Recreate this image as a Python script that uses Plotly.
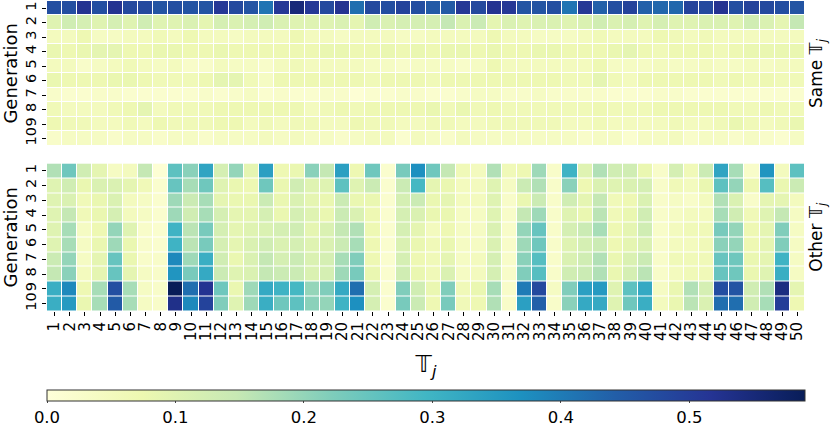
import plotly.graph_objects as go

columns = [str(i) for i in range(1, 51)]
generations = [str(i) for i in range(1, 11)]

# ---- Same T_j (top panel), one list per generation ----
same_g1 = [0.47,0.47,0.52,0.47,0.52,0.48,0.48,0.46,0.47,0.46,0.46,0.51,0.48,0.46,0.41,0.51,0.55,0.51,0.48,0.52,
           0.42,0.48,0.47,0.49,0.47,0.45,0.45,0.51,0.48,0.52,0.51,0.46,0.46,0.47,0.41,0.51,0.44,0.47,0.49,0.44,
           0.43,0.43,0.49,0.48,0.52,0.47,0.49,0.48,0.47,0.46]
same_g2 = [0.10,0.13,0.12,0.10,0.12,0.10,0.13,0.10,0.10,0.11,0.09,0.12,0.11,0.12,0.13,0.11,0.10,0.10,0.10,0.11,
           0.09,0.13,0.11,0.12,0.12,0.12,0.15,0.11,0.14,0.09,0.11,0.10,0.11,0.11,0.10,0.11,0.13,0.11,0.12,0.10,
           0.12,0.10,0.10,0.11,0.11,0.10,0.13,0.11,0.09,0.15]
same_g3 = [0.05,0.05,0.07,0.04,0.04,0.05,0.05,0.06,0.05,0.07,0.05,0.05,0.04,0.05,0.05,0.05,0.07,0.05,0.05,0.04,
           0.05,0.05,0.05,0.04,0.04,0.05,0.05,0.05,0.05,0.07,0.05,0.05,0.04,0.04,0.04,0.05,0.06,0.05,0.05,0.05,
           0.07,0.06,0.05,0.06,0.05,0.05,0.05,0.05,0.05,0.05]
same_g4 = [0.08,0.07,0.08,0.09,0.09,0.07,0.07,0.08,0.08,0.07,0.07,0.08,0.07,0.07,0.07,0.07,0.07,0.07,0.08,0.08,
           0.07,0.07,0.08,0.07,0.08,0.07,0.08,0.08,0.07,0.08,0.07,0.07,0.08,0.08,0.07,0.07,0.07,0.08,0.09,0.07,
           0.06,0.07,0.07,0.07,0.06,0.07,0.08,0.08,0.08,0.08]
same_g5 = [0.05,0.05,0.03,0.04,0.05,0.06,0.05,0.04,0.05,0.03,0.03,0.05,0.04,0.04,0.03,0.05,0.06,0.05,0.05,0.05,
           0.05,0.04,0.04,0.03,0.04,0.04,0.04,0.03,0.04,0.07,0.05,0.05,0.05,0.05,0.05,0.05,0.07,0.04,0.04,0.04,
           0.05,0.04,0.04,0.05,0.04,0.04,0.05,0.04,0.05,0.05]
same_g6 = [0.08,0.07,0.07,0.07,0.08,0.08,0.07,0.06,0.06,0.06,0.07,0.09,0.09,0.06,0.04,0.07,0.07,0.07,0.07,0.07,
           0.07,0.06,0.07,0.07,0.07,0.06,0.07,0.07,0.07,0.07,0.07,0.07,0.07,0.07,0.06,0.06,0.09,0.06,0.05,0.07,
           0.07,0.07,0.07,0.07,0.06,0.07,0.06,0.07,0.06,0.06]
same_g7 = [0.03,0.02,0.02,0.03,0.03,0.02,0.02,0.02,0.02,0.02,0.03,0.02,0.03,0.04,0.02,0.03,0.02,0.02,0.03,0.03,
           0.01,0.02,0.02,0.03,0.03,0.02,0.02,0.03,0.04,0.04,0.03,0.03,0.04,0.03,0.03,0.03,0.03,0.02,0.02,0.02,
           0.03,0.03,0.02,0.02,0.02,0.02,0.02,0.02,0.02,0.02]
same_g8 = [0.06,0.05,0.05,0.05,0.06,0.07,0.09,0.05,0.06,0.06,0.06,0.07,0.07,0.07,0.07,0.07,0.07,0.05,0.06,0.07,
           0.06,0.07,0.07,0.07,0.07,0.08,0.06,0.08,0.06,0.07,0.06,0.06,0.06,0.06,0.06,0.06,0.07,0.06,0.06,0.06,
           0.07,0.07,0.07,0.07,0.07,0.06,0.06,0.07,0.06,0.06]
same_g9 = [0.07,0.06,0.06,0.05,0.05,0.06,0.05,0.07,0.06,0.06,0.06,0.07,0.07,0.05,0.06,0.05,0.06,0.06,0.05,0.05,
           0.07,0.06,0.06,0.05,0.05,0.06,0.06,0.05,0.05,0.06,0.06,0.06,0.06,0.06,0.05,0.05,0.06,0.05,0.05,0.05,
           0.05,0.06,0.05,0.05,0.06,0.08,0.06,0.05,0.06,0.08]
same_g10 = [0.03,0.04,0.04,0.04,0.03,0.04,0.04,0.03,0.04,0.04,0.03,0.04,0.04,0.04,0.05,0.04,0.05,0.04,0.04,0.03,
            0.04,0.05,0.05,0.02,0.05,0.04,0.03,0.05,0.04,0.04,0.04,0.04,0.04,0.04,0.04,0.03,0.04,0.04,0.02,0.04,
            0.04,0.05,0.03,0.04,0.04,0.03,0.04,0.03,0.02,0.04]

# ---- Other T_j (bottom panel), one list per generation ----
other_g1 = [0.17,0.24,0.13,0.09,0.04,0.05,0.15,0.01,0.26,0.21,0.33,0.12,0.20,0.09,0.34,0.07,0.08,0.21,0.15,0.34,
            0.07,0.24,0.02,0.23,0.37,0.24,0.15,0.06,0.05,0.17,0.06,0.07,0.19,0.03,0.30,0.10,0.17,0.13,0.13,0.08,
            0.03,0.12,0.06,0.14,0.33,0.18,0.03,0.36,0.05,0.26]
other_g2 = [0.10,0.13,0.08,0.11,0.11,0.09,0.06,0.02,0.25,0.18,0.24,0.10,0.08,0.07,0.24,0.08,0.13,0.10,0.10,0.26,
            0.10,0.14,0.02,0.14,0.29,0.09,0.08,0.05,0.05,0.10,0.04,0.14,0.17,0.03,0.21,0.07,0.11,0.10,0.11,0.12,
            0.03,0.06,0.05,0.08,0.26,0.20,0.07,0.27,0.08,0.14]
other_g3 = [0.10,0.11,0.06,0.08,0.11,0.05,0.04,0.02,0.19,0.14,0.18,0.09,0.08,0.08,0.14,0.08,0.11,0.09,0.08,0.14,
            0.08,0.08,0.02,0.12,0.14,0.08,0.09,0.05,0.05,0.10,0.03,0.08,0.14,0.03,0.13,0.09,0.15,0.06,0.07,0.11,
            0.03,0.04,0.03,0.05,0.17,0.11,0.03,0.09,0.09,0.05]
other_g4 = [0.10,0.15,0.06,0.08,0.12,0.05,0.04,0.02,0.19,0.13,0.18,0.12,0.09,0.09,0.12,0.08,0.12,0.10,0.08,0.14,
            0.11,0.07,0.02,0.12,0.11,0.08,0.08,0.04,0.04,0.10,0.03,0.15,0.19,0.03,0.10,0.08,0.16,0.06,0.08,0.13,
            0.03,0.04,0.05,0.05,0.18,0.13,0.06,0.10,0.15,0.04]
other_g5 = [0.10,0.18,0.04,0.07,0.20,0.10,0.03,0.02,0.30,0.16,0.23,0.12,0.09,0.10,0.11,0.12,0.13,0.09,0.11,0.15,
            0.17,0.07,0.02,0.12,0.09,0.05,0.07,0.04,0.04,0.11,0.03,0.20,0.25,0.03,0.12,0.14,0.18,0.07,0.09,0.13,
            0.03,0.05,0.06,0.06,0.23,0.20,0.07,0.09,0.22,0.04]
other_g6 = [0.10,0.18,0.04,0.08,0.19,0.08,0.03,0.02,0.30,0.16,0.23,0.12,0.09,0.11,0.13,0.11,0.12,0.10,0.11,0.14,
            0.18,0.07,0.02,0.11,0.08,0.06,0.08,0.04,0.04,0.11,0.03,0.19,0.24,0.03,0.10,0.12,0.14,0.07,0.09,0.11,
            0.03,0.05,0.05,0.06,0.21,0.20,0.07,0.09,0.22,0.04]
other_g7 = [0.14,0.20,0.04,0.09,0.25,0.08,0.03,0.03,0.38,0.19,0.31,0.13,0.08,0.11,0.15,0.12,0.14,0.11,0.12,0.18,
            0.22,0.07,0.02,0.12,0.07,0.06,0.09,0.04,0.05,0.12,0.03,0.21,0.27,0.03,0.11,0.13,0.17,0.08,0.11,0.14,
            0.03,0.06,0.06,0.06,0.25,0.24,0.08,0.09,0.30,0.04]
other_g8 = [0.15,0.21,0.05,0.09,0.25,0.09,0.04,0.03,0.36,0.23,0.32,0.14,0.10,0.11,0.15,0.14,0.14,0.11,0.12,0.19,
            0.23,0.08,0.02,0.13,0.08,0.06,0.11,0.04,0.05,0.12,0.03,0.22,0.27,0.03,0.13,0.14,0.17,0.08,0.12,0.16,
            0.03,0.05,0.06,0.06,0.25,0.24,0.08,0.10,0.31,0.04]
other_g9 = [0.31,0.38,0.07,0.18,0.47,0.18,0.04,0.03,0.59,0.42,0.52,0.24,0.08,0.19,0.32,0.30,0.29,0.20,0.22,0.32,
            0.42,0.12,0.02,0.22,0.13,0.08,0.22,0.06,0.08,0.18,0.03,0.40,0.48,0.04,0.22,0.34,0.35,0.10,0.26,0.32,
            0.04,0.08,0.17,0.12,0.47,0.46,0.13,0.17,0.54,0.09]
other_g10 = [0.31,0.35,0.08,0.18,0.45,0.18,0.04,0.03,0.53,0.38,0.49,0.22,0.10,0.19,0.31,0.24,0.26,0.21,0.20,0.30,
             0.37,0.12,0.02,0.23,0.14,0.07,0.23,0.06,0.07,0.17,0.03,0.34,0.44,0.03,0.21,0.32,0.32,0.10,0.24,0.31,
             0.05,0.08,0.16,0.11,0.42,0.42,0.13,0.18,0.50,0.07]

colorbar_ticks = [0.0, 0.1, 0.2, 0.3, 0.4, 0.5]
zmax = 0.59

same_vals = [same_g1, same_g2, same_g3, same_g4, same_g5, same_g6, same_g7, same_g8, same_g9, same_g10]
other_vals = [other_g1, other_g2, other_g3, other_g4, other_g5, other_g6, other_g7, other_g8, other_g9, other_g10]

ylgnbu = [[0.0, "#ffffd9"], [0.125, "#edf8b1"], [0.25, "#c7e9b4"], [0.375, "#7fcdbb"],
          [0.5, "#41b6c4"], [0.625, "#1d91c0"], [0.75, "#225ea8"], [0.875, "#253494"], [1.0, "#081d58"]]

FONT = "DejaVu Sans"

fig = go.Figure()
fig.add_trace(go.Heatmap(
    z=same_vals, x=columns, y=generations, xaxis="x", yaxis="y",
    colorscale=ylgnbu, zmin=0, zmax=zmax, xgap=1, ygap=1, showscale=False,
))
fig.add_trace(go.Heatmap(
    z=other_vals, x=columns, y=generations, xaxis="x", yaxis="y2",
    colorscale=ylgnbu, zmin=0, zmax=zmax, xgap=1, ygap=1, showscale=True,
    colorbar=dict(
        orientation="h", x=0, xanchor="left", len=1.0, lenmode="fraction",
        y=-0.256, yanchor="top", thickness=11, ypad=0, xpad=0,
        outlinewidth=1, outlinecolor="#333333",
        tickvals=colorbar_ticks, tickformat=".1f", ticks="outside", ticklen=2,
        tickfont=dict(family=FONT, size=16.5, color="black"),
    ),
))

axis_common = dict(showgrid=False, zeroline=False, showline=False, automargin=False)
ytick_common = dict(
    type="category", autorange="reversed", tickmode="array", tickvals=generations,
    ticktext=generations, tickangle=-90, ticks="outside", ticklen=4, tickcolor="black",
    tickfont=dict(family=FONT, size=14.5),
)
fig.update_layout(
    width=830, height=429,
    margin=dict(l=47, r=25, t=1, b=111),
    paper_bgcolor="white", plot_bgcolor="white",
    font=dict(family=FONT, color="black"),
    xaxis=dict(
        **axis_common, anchor="y2", type="category", tickmode="array",
        tickvals=columns, ticktext=columns, tickangle=-90,
        ticks="outside", ticklen=4, tickcolor="black",
        tickfont=dict(family=FONT, size=15),
        title=dict(text="𝕋<sub><i>j</i></sub>", font=dict(family=FONT, size=23)),
    ),
    yaxis=dict(
        **axis_common, **ytick_common, domain=[0.533, 1.0],
        title=dict(text="Generation", font=dict(family=FONT, size=18)),
    ),
    yaxis2=dict(
        **axis_common, **ytick_common, domain=[0.0, 0.476], anchor="x",
        title=dict(text="Generation", font=dict(family=FONT, size=18)),
    ),
    annotations=[
        dict(text="Same 𝕋<sub><i>j</i></sub>", x=1.0, xref="paper", xanchor="left", xshift=-1,
             y=0.766, yref="paper", yanchor="middle", textangle=-90, showarrow=False,
             font=dict(family=FONT, size=17)),
        dict(text="Other 𝕋<sub><i>j</i></sub>", x=1.0, xref="paper", xanchor="left", xshift=-1,
             y=0.238, yref="paper", yanchor="middle", textangle=-90, showarrow=False,
             font=dict(family=FONT, size=17)),
    ],
)

fig.write_html(
    "out.html",
    config={"displayModeBar": False, "staticPlot": True},
    post_script="document.body.style.margin='0';document.body.style.padding='0';document.body.style.overflow='hidden';",
)
